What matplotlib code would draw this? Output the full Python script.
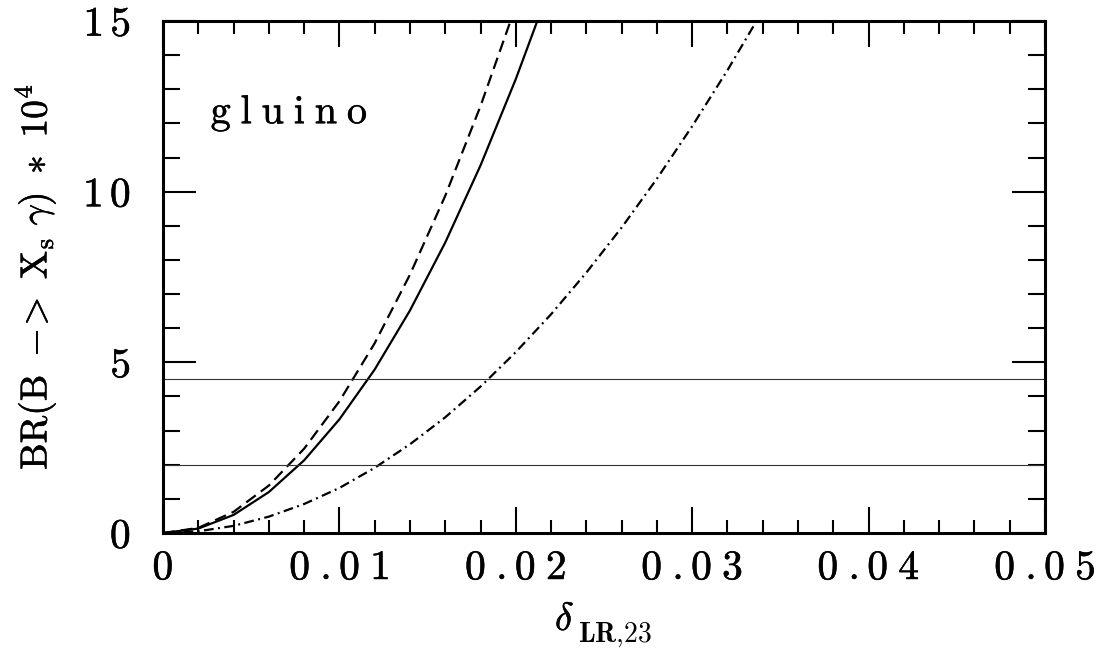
import numpy as np
import matplotlib
matplotlib.use("Agg")
import matplotlib.pyplot as plt
import matplotlib.patheffects as pe

plt.rcParams["mathtext.fontset"] = "cm"
plt.rcParams["font.family"] = "serif"
plt.rcParams["font.serif"] = ["cmr10", "DejaVu Serif"]
plt.rcParams["axes.formatter.use_mathtext"] = True
plt.rcParams["lines.scale_dashes"] = False

# delta_LR,23 grid and BR(B -> X_s gamma) * 1e4 for the three curves
delta_solid = [0.000, 0.002, 0.004, 0.006, 0.008, 0.010, 0.012, 0.014,
               0.016, 0.018, 0.020, 0.022]
br_solid = [0.00, 0.13, 0.53, 1.20, 2.13, 3.33, 4.79, 6.52,
            8.51, 10.77, 13.30, 16.09]

delta_dashed = [0.000, 0.002, 0.004, 0.006, 0.008, 0.010, 0.012, 0.014,
                0.016, 0.018, 0.020]
br_dashed = [0.00, 0.15, 0.62, 1.39, 2.47, 3.86, 5.56, 7.57,
             9.88, 12.51, 15.44]

delta_dashdot = [0.000, 0.002, 0.004, 0.006, 0.008, 0.010, 0.012, 0.014,
                 0.016, 0.018, 0.020, 0.022, 0.024, 0.026, 0.028, 0.030,
                 0.032, 0.034, 0.036]
br_dashdot = [0.00, 0.05, 0.21, 0.48, 0.85, 1.32, 1.91, 2.60,
              3.39, 4.29, 5.30, 6.41, 7.63, 8.95, 10.38, 11.92,
              13.56, 15.31, 17.16]

# experimental band limits
br_limits = [2.0, 4.5]

x_ticks = [0, 0.01, 0.02, 0.03, 0.04, 0.05]
x_ticklabels = ["0", "0.01", "0.02", "0.03", "0.04", "0.05"]
y_ticks = [0, 5, 10, 15]
y_ticklabels = ["0", "5", "10", "15"]


def spaced(s, gap=r"\,"):
    # letter-spaced roman text; mathtext already pads after a '.'
    out = ""
    for i, ch in enumerate(s):
        out += ch
        if i < len(s) - 1 and ch != ".":
            out += gap
    return r"$\mathrm{" + out + "}$"


heavy = [pe.withStroke(linewidth=0.35, foreground="black")]

W, H = 1102, 649
fig = plt.figure(figsize=(W / 100, H / 100), dpi=100)
ax = fig.add_axes([0.1479, 0.1787, 0.8004, 0.7889])

ax.plot(delta_solid, br_solid, color="black", lw=1.6)
ax.plot(delta_dashed, br_dashed, color="black", lw=1.6, dashes=(8.5, 4.5))
ax.plot(delta_dashdot, br_dashdot, color="black", lw=1.6,
        dashes=(7.0, 3.2, 1.4, 3.2))
for b in br_limits:
    ax.axhline(b, color="#333333", lw=0.8)

ax.set_xlim(0, 0.05)
ax.set_ylim(0, 15)
ax.set_xticks(x_ticks, labels=[spaced(t, r"\;") for t in x_ticklabels])
ax.set_xticks(np.arange(0, 0.0501, 0.002), minor=True)
ax.set_yticks(y_ticks, labels=[spaced(t) for t in y_ticklabels])
ax.set_yticks(np.arange(0, 15.01, 1), minor=True)

ax.tick_params(axis="both", which="both", direction="in", top=True,
               right=True, width=1.5, colors="black", labelsize=30)
ax.tick_params(axis="x", which="major", length=19, pad=12)
ax.tick_params(axis="x", which="minor", length=9.5)
ax.tick_params(axis="y", which="major", length=24, pad=23)
ax.tick_params(axis="y", which="minor", length=12)
for s in ax.spines.values():
    s.set_linewidth(2.2)
for lab in ax.get_xticklabels() + ax.get_yticklabels():
    lab.set_path_effects(heavy)

ax.text(0.0027, 12.0, spaced("gluino", r"\;"), fontsize=29,
        ha="left", va="baseline", path_effects=heavy)

# x label: delta with a lowered bold subscript
fig.text(555 / W, 1 - 630 / H, r"$\delta$", fontsize=28,
         ha="left", va="baseline", path_effects=heavy)
fig.text(578 / W, 1 - 642 / H, r"$\mathbf{LR{,}23}$", fontsize=20,
         ha="left", va="baseline")

fig.text(35 / W, 1 - 277 / H,
         r"$\mathrm{BR(B\ -\!\!>\ X_s\ \gamma)\ *\ 10^4}$",
         fontsize=27, rotation=90, ha="center", va="center",
         path_effects=heavy)

fig.savefig("out.png", dpi=100, facecolor="white")
